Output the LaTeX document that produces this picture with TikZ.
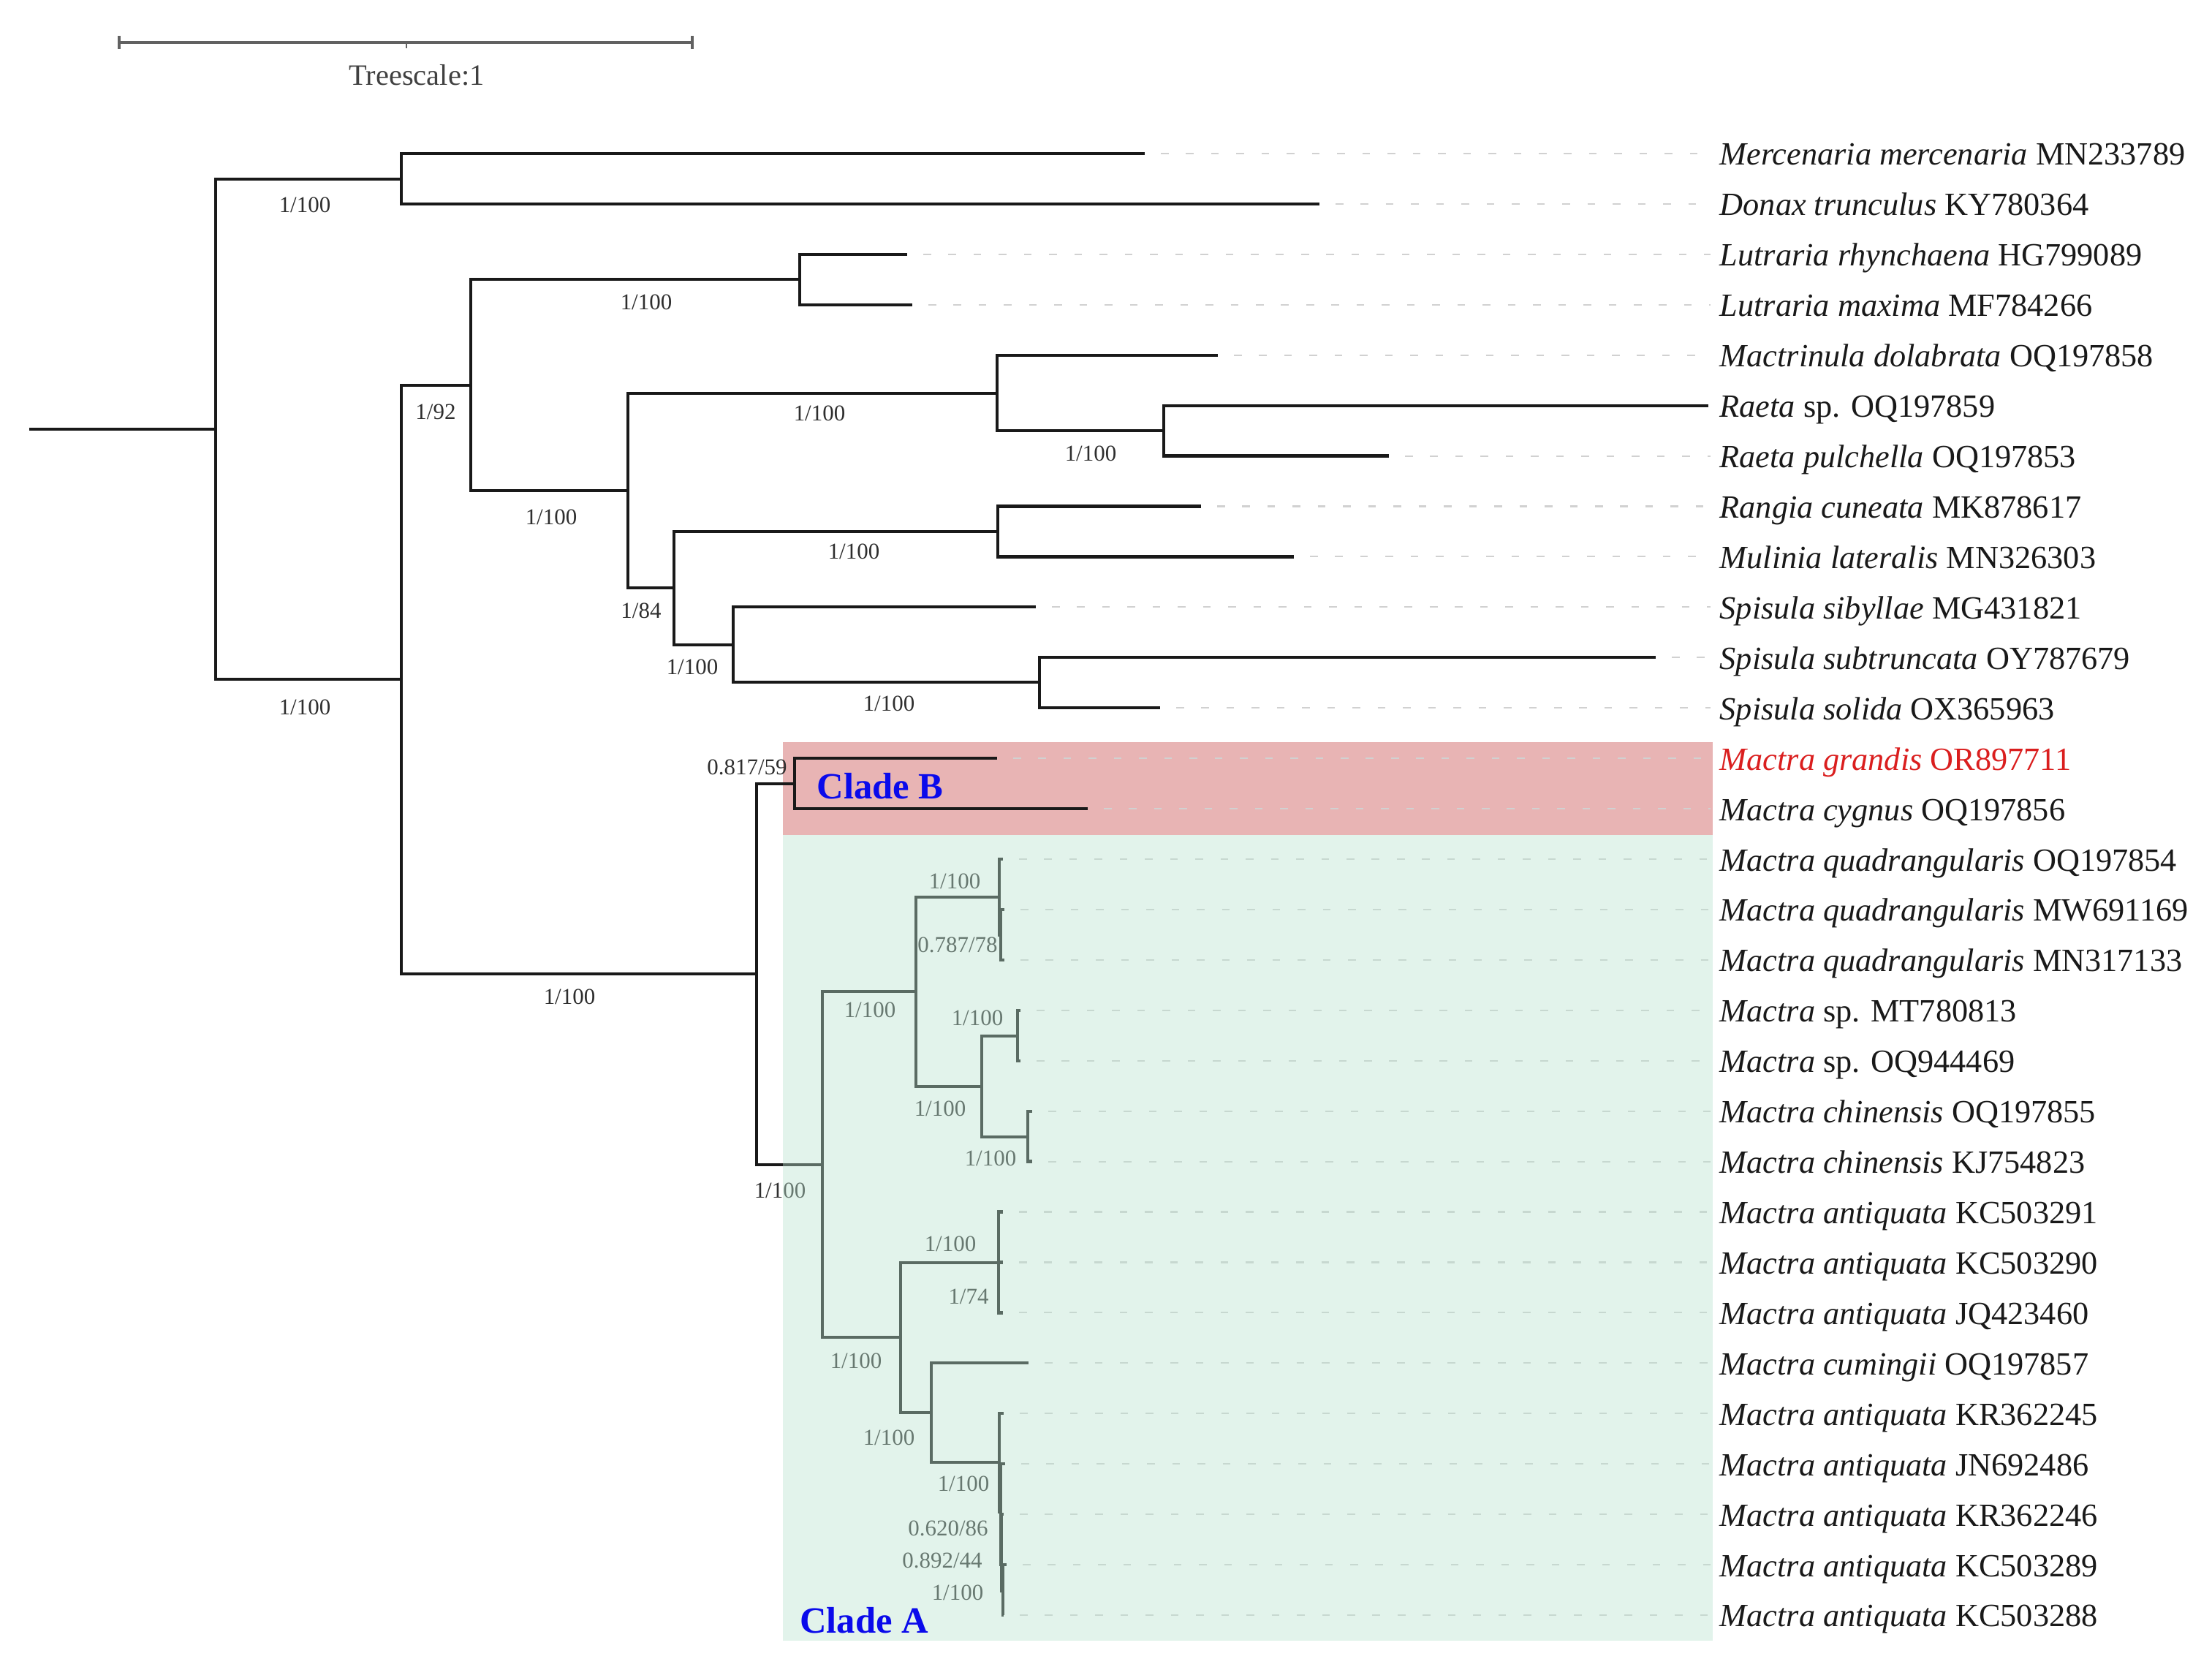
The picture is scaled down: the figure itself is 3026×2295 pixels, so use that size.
\documentclass[tikz,border=0pt]{standalone}
\usepackage{fontspec}
\setmainfont{Liberation Serif}
\usetikzlibrary{calc}
\definecolor{cladeblue}{RGB}{10,10,235}
\definecolor{pinkbg}{RGB}{232,180,180}
\definecolor{greenov}{RGB}{185,226,207}
\definecolor{redtx}{RGB}{218,30,30}
\definecolor{linec}{RGB}{25,25,25}
\begin{document}
\begin{tikzpicture}[x=0.01cm,y=-0.01cm,
  br/.style={line width=1.2pt, color=linec},
  lead/.style={color=black!18, line width=0.6pt, dash pattern=on 3pt off 6.8pt},
  bl/.style={font=\fontsize{8.8}{9}\selectfont, text=black!82, inner sep=0pt},
  tx/.style={font=\fontsize{12.6}{13}\selectfont, text=black!90, anchor=base west, inner sep=0pt},
  cladelab/.style={font=\fontsize{14.4}{15}\selectfont\bfseries, text=cladeblue, inner sep=0pt},
  sbar/.style={line width=1.1pt, color=black!62}]
\useasboundingbox (0,0) rectangle (3026,2295);

% backgrounds
\coordinate (pk1) at (1071,1015);
\coordinate (pk2) at (2343,1142);
\fill[pinkbg] (pk1) rectangle (pk2);

% scale bar
\coordinate (sb1) at (163,58);
\coordinate (sb2) at (947,58);
\coordinate (sbm) at (556,58);
\draw[sbar] (sb1) -- (sb2);
\draw[sbar] ($(sb1)+(0,-9)$) -- ($(sb1)+(0,9)$);
\draw[sbar] ($(sb2)+(0,-9)$) -- ($(sb2)+(0,9)$);
\draw[sbar, line width=0.6pt] (sbm) -- ($(sbm)+(0,8)$);
\node[font=\fontsize{11.5}{12}\selectfont, text=black!75, inner sep=0pt] (sbl) at (570,103) {Treescale:1};

% internal nodes
\coordinate (R0) at (40,587);
\coordinate (R) at (295,587);
\coordinate (MD) at (549,245);
\coordinate (B) at (549,929);
\coordinate (C) at (644,527);
\coordinate (Lut) at (1094,382);
\coordinate (D) at (859,671);
\coordinate (Mn) at (1364,538);
\coordinate (Ra) at (1592,589);
\coordinate (E) at (922,804);
\coordinate (Rg) at (1365,727);
\coordinate (F) at (1003,882);
\coordinate (St) at (1422,933);
\coordinate (M) at (1035,1332);
\coordinate (CB) at (1087,1072);
\coordinate (CA) at (1125,1593);
\coordinate (I) at (1253,1356);
\coordinate (Q) at (1367,1227);
\coordinate (Q2) at (1369,1279);
\coordinate (J) at (1343,1486);
\coordinate (Sp) at (1392,1417);
\coordinate (Ch) at (1406,1555);
\coordinate (G) at (1232,1829);
\coordinate (At) at (1366,1727);
\coordinate (H) at (1274,1932);
\coordinate (A5) at (1367,2000);
\coordinate (X) at (1369,2068);
\coordinate (Y) at (1370,2140);
\coordinate (Z) at (1372,2176);

% tips, labels, leaders
\foreach \i/\tx/\lab in {
 0/1566/{\textit{Mercenaria mercenaria} MN233789},
 1/1805/{\textit{Donax trunculus} KY780364},
 2/1241/{\textit{Lutraria rhynchaena} HG799089},
 3/1248/{\textit{Lutraria maxima} MF784266},
 4/1666/{\textit{Mactrinula dolabrata} OQ197858},
 5/2337/{\textit{Raeta} sp. OQ197859},
 6/1900/{\textit{Raeta pulchella} OQ197853},
 7/1643/{\textit{Rangia cuneata} MK878617},
 8/1770/{\textit{Mulinia lateralis} MN326303},
 9/1417/{\textit{Spisula sibyllae} MG431821},
 10/2265/{\textit{Spisula subtruncata} OY787679},
 11/1587/{\textit{Spisula solida} OX365963},
 12/1364/{\color{redtx}\textit{Mactra grandis} OR897711},
 13/1488/{\textit{Mactra cygnus} OQ197856},
 14/1372/{\textit{Mactra quadrangularis} OQ197854},
 15/1374/{\textit{Mactra quadrangularis} MW691169},
 16/1374/{\textit{Mactra quadrangularis} MN317133},
 17/1396/{\textit{Mactra} sp. MT780813},
 18/1396/{\textit{Mactra} sp. OQ944469},
 19/1412/{\textit{Mactra chinensis} OQ197855},
 20/1412/{\textit{Mactra chinensis} KJ754823},
 21/1372/{\textit{Mactra antiquata} KC503291},
 22/1372/{\textit{Mactra antiquata} KC503290},
 23/1372/{\textit{Mactra antiquata} JQ423460},
 24/1407/{\textit{Mactra cumingii} OQ197857},
 25/1373/{\textit{Mactra antiquata} KR362245},
 26/1375/{\textit{Mactra antiquata} JN692486},
 27/1373/{\textit{Mactra antiquata} KR362246},
 28/1377/{\textit{Mactra antiquata} KC503289},
 29/1373/{\textit{Mactra antiquata} KC503288}} {
  \coordinate (t\i) at (\tx, {210+68.93*\i});
  \node[tx] (n\i) at (2352, {226+68.93*\i}) {\lab};
  \ifnum\tx<2300
    \draw[lead] ($(t\i)+(22,0)$) -- ($(n\i.west |- t\i)+(-12,0)$);
  \fi
}

% branches
\draw[br] (R0) -- (R);
\foreach \p/\c in {R/MD, R/B, MD/t0, MD/t1, B/C, B/M, C/Lut, C/D, Lut/t2, Lut/t3,
  D/Mn, D/E, Mn/t4, Mn/Ra, Ra/t5, Ra/t6, E/Rg, E/F, Rg/t7, Rg/t8, F/t9, F/St,
  St/t10, St/t11, M/CB, M/CA, CB/t12, CB/t13, CA/I, CA/G, I/Q, I/J, Q/t14, Q/Q2,
  Q2/t15, Q2/t16, J/Sp, J/Ch, Sp/t17, Sp/t18, Ch/t19, Ch/t20, G/At, G/H,
  At/t21, At/t22, At/t23, H/t24, H/A5, A5/t25, A5/X, X/t26, X/Y, Y/t27, Y/Z,
  Z/t28, Z/t29}
  \draw[br] (\p) |- (\c);

% support labels
\node[bl] (lMD) at (417,280) {1/100};
\node[bl] (lB) at (417,967) {1/100};
\node[bl] (lC) at (596,563) {1/92};
\node[bl] (lLut) at (884,413) {1/100};
\node[bl] (lD) at (754,707) {1/100};
\node[bl] (lMn) at (1121,565) {1/100};
\node[bl] (lRa) at (1492,620) {1/100};
\node[bl] (lE) at (877,835) {1/84};
\node[bl] (lF) at (947,912) {1/100};
\node[bl] (lRg) at (1168,754) {1/100};
\node[bl] (lSt) at (1216,962) {1/100};
\node[bl] (lM) at (779,1363) {1/100};
\node[bl] (lCB) at (1022,1049) {0.817/59};
\node[bl] (lCA) at (1067,1628) {1/100};
\node[bl] (lI) at (1190,1381) {1/100};
\node[bl] (lQ) at (1306,1205) {1/100};
\node[bl] (lQ2) at (1310,1292) {0.787/78};
\node[bl] (lJ) at (1286,1516) {1/100};
\node[bl] (lSp) at (1337,1392) {1/100};
\node[bl] (lCh) at (1355,1584) {1/100};
\node[bl] (lG) at (1171,1861) {1/100};
\node[bl] (lAt) at (1300,1701) {1/100};
\node[bl] (lAt2) at (1325,1773) {1/74};
\node[bl] (lH) at (1216,1966) {1/100};
\node[bl] (lA5) at (1318,2029) {1/100};
\node[bl] (lX) at (1297,2090) {0.620/86};
\node[bl] (lY) at (1289,2134) {0.892/44};
\node[bl] (lZ) at (1310,2178) {1/100};

% green overlay of clade A
\coordinate (gr1) at (1071,1142);
\coordinate (gr2) at (2343,2244);
\fill[greenov, opacity=0.41] (gr1) rectangle (gr2);

% clade names
\node[cladelab] (cladeB) at (1204,1075) {Clade B};
\node[cladelab] (cladeA) at (1182,2216) {Clade A};
\end{tikzpicture}
\end{document}
